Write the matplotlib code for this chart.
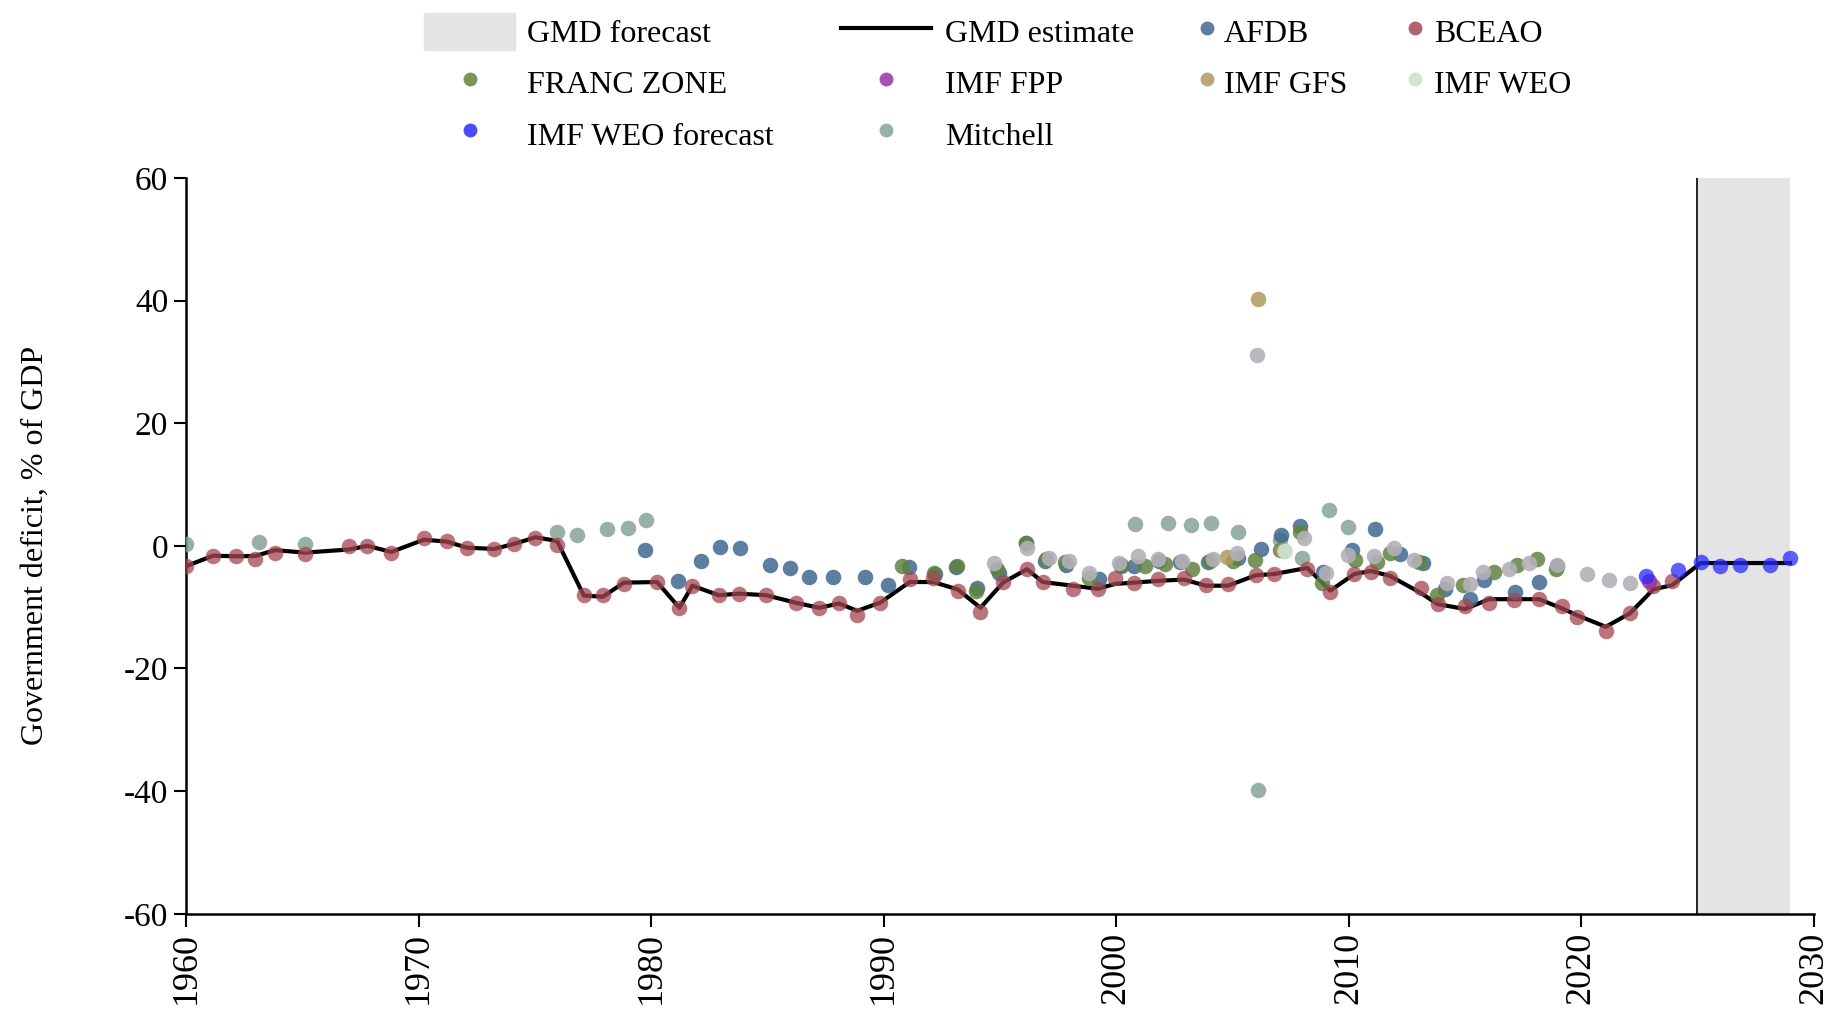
import matplotlib
matplotlib.use("Agg")
import matplotlib.pyplot as plt
from matplotlib.lines import Line2D
from matplotlib.patches import Patch

plt.rcParams["font.family"] = ["Liberation Serif", "DejaVu Serif"]
plt.rcParams["axes.unicode_minus"] = False

# GMD estimate line
gmd_years = [1960.0, 1961.16, 1962.14, 1962.97, 1963.82, 1965.1, 1966.99, 1967.79, 1968.82,
             1970.21, 1971.2, 1972.07, 1973.24, 1974.09, 1975.02, 1975.95, 1977.1, 1977.92,
             1978.82, 1980.25, 1981.21, 1981.77, 1982.9, 1983.77, 1984.94, 1986.24, 1987.22,
             1988.08, 1988.86, 1989.85, 1991.12, 1992.13, 1993.18, 1994.16, 1995.13, 1996.16,
             1996.84, 1998.13, 1999.2, 1999.96, 2000.77, 2001.81, 2002.92, 2003.85, 2004.81,
             2006.0, 2006.78, 2008.22, 2009.21, 2010.24, 2010.95, 2011.77, 2013.11, 2013.82,
             2015.0, 2016.04, 2017.09, 2018.19, 2019.18, 2019.81, 2021.06, 2022.1, 2023.1,
             2023.92, 2025.14, 2025.97, 2026.83, 2028.12, 2028.98]
gmd_vals = [-3.3, -1.6, -1.7, -1.65, -0.7, -1.1, -0.6, 0.0, -1.0,
            1.0, 0.7, -0.3, -0.5, 0.3, 1.4, 0.8, -8.1, -8.3,
            -6.0, -5.9, -10.1, -6.5, -8.05, -7.8, -8.05, -9.3, -10.1,
            -9.4, -10.6, -9.25, -5.9, -5.9, -7.1, -10.1, -6.0, -3.8,
            -5.9, -6.5, -7.0, -6.2, -6.0, -5.7, -5.5, -6.5, -6.5,
            -4.8, -4.6, -3.6, -7.3, -4.6, -4.1, -4.9, -7.7, -9.5,
            -10.3, -8.7, -8.7, -8.7, -10.2, -11.3, -13.2, -11.0, -7.1,
            -6.4, -2.8, -2.8, -2.8, -2.8, -2.8]

afdb_years = [1979.75, 1981.17, 1982.13, 1982.96, 1983.82, 1985.1, 1985.97, 1986.79, 1987.82,
              1989.21, 1990.19, 1991.07, 1992.22, 1993.11, 1994.03, 1994.96, 1996.12, 1996.94,
              1997.83, 1999.27, 2000.22, 2000.75, 2001.86, 2002.74, 2003.93, 2005.25, 2006.23,
              2007.09, 2007.9, 2008.88, 2010.13, 2011.15, 2012.21, 2013.19, 2014.15, 2015.22,
              2015.82, 2017.15, 2018.2, 2018.97]
afdb_vals = [-0.7, -5.7, -2.5, -0.15, -0.35, -3.2, -3.65, -5.15, -5.1,
             -5.1, -6.4, -3.4, -4.55, -3.5, -6.8, -4.5, 0.4, -2.45,
             -3.15, -5.4, -3.25, -3.3, -2.4, -2.7, -2.7, -2.0, -0.5,
             1.8, 3.3, -4.3, -0.6, 2.8, -1.4, -2.85, -7.1, -8.6,
             -5.5, -7.6, -5.9, -3.3]

bceao_years = [1960.0, 1961.16, 1962.14, 1962.97, 1963.82, 1965.1, 1966.99, 1967.79, 1968.82,
               1970.21, 1971.2, 1972.07, 1973.24, 1974.09, 1975.02, 1975.95, 1977.1, 1977.92,
               1978.82, 1980.25, 1981.21, 1981.77, 1982.9, 1983.77, 1984.94, 1986.24, 1987.22,
               1988.08, 1988.86, 1989.85, 1991.12, 1992.13, 1993.18, 1994.16, 1995.13, 1996.16,
               1996.84, 1998.13, 1999.2, 1999.96, 2000.77, 2001.81, 2002.92, 2003.85, 2004.81,
               2006.0, 2006.78, 2008.22, 2009.21, 2010.24, 2010.95, 2011.77, 2013.11, 2013.82,
               2015.0, 2016.04, 2017.09, 2018.19, 2019.18, 2019.81, 2021.06, 2022.1, 2023.1,
               2023.92]
bceao_vals = [-3.3, -1.7, -1.7, -2.2, -1.1, -1.4, 0.05, -0.05, -1.2,
              1.3, 0.8, -0.3, -0.55, 0.3, 1.3, 0.2, -7.95, -8.05,
              -6.2, -5.9, -10.1, -6.5, -8.05, -7.8, -8.05, -9.3, -10.1,
              -9.25, -11.2, -9.25, -5.35, -5.2, -7.3, -10.8, -5.9, -3.8,
              -5.9, -7.0, -7.0, -5.2, -6.0, -5.4, -5.3, -6.4, -6.2,
              -4.7, -4.6, -3.7, -7.5, -4.6, -4.2, -5.3, -6.9, -9.45,
              -9.8, -9.3, -8.8, -8.6, -9.8, -11.6, -13.9, -11.0, -6.6,
              -5.8]

franc_years = [1990.77, 1992.16, 1993.14, 1993.97, 1994.86, 1996.11, 1996.99, 1997.79, 1998.85,
               2000.2, 2001.22, 2002.1, 2003.25, 2004.04, 2005.04, 2005.96, 2007.05, 2007.9,
               2008.84, 2010.27, 2011.23, 2011.78, 2013.04, 2013.79, 2014.93, 2016.27, 2017.23,
               2018.09, 2018.91]
franc_vals = [-3.3, -4.45, -3.35, -7.3, -3.75, 0.4, -2.2, -2.7, -5.2,
              -3.15, -3.3, -3.0, -3.7, -2.4, -2.4, -2.3, -0.6, 2.3,
              -6.1, -2.3, -2.6, -1.1, -2.7, -7.95, -6.35, -4.3, -3.1,
              -2.2, -3.7]

fpp_years = [2022.92]
fpp_vals = [-5.8]

gfs_years = [2004.78, 2006.1, 2007.16]
gfs_vals = [-1.8, 40.3, -0.6]

weo_years = [2007.24]
weo_vals = [-0.85]

weo_fc_years = [2022.78, 2024.18, 2025.14, 2025.97, 2026.83, 2028.12, 2028.98]
weo_fc_vals = [-4.9, -3.9, -2.7, -3.3, -3.2, -3.1, -2.0]

mitchell_years = [1960.0, 1963.14, 1965.12, 1975.96, 1976.82, 1978.1, 1978.99, 1979.78,
                  2000.82, 2002.22, 2003.2, 2004.08, 2005.23, 2006.08, 2007.05, 2007.97,
                  2009.14, 2009.96]
mitchell_vals = [0.3, 0.7, 0.3, 2.2, 1.7, 2.7, 2.9, 4.2,
                 3.5, 3.7, 3.4, 3.8, 2.2, -39.8, 1.0, -1.9,
                 5.9, 3.0]

# grey dots without a legend entry
other_years = [1994.76, 1996.16, 1997.13, 1997.97, 1998.84, 2000.1, 2000.95, 2001.81, 2002.82,
               2004.18, 2005.21, 2006.07, 2007.22, 2008.08, 2009.03, 2009.96, 2011.1, 2011.95,
               2012.81, 2014.24, 2015.22, 2015.77, 2016.91, 2017.77, 2018.95, 2020.24, 2021.21,
               2022.1]
other_vals = [-2.85, -0.3, -2.0, -2.5, -4.4, -2.8, -1.6, -2.1, -2.4,
              -2.1, -1.1, 31.2, -0.8, 1.2, -4.35, -1.5, -1.7, -0.4,
              -2.3, -6.1, -6.2, -4.3, -3.7, -2.75, -3.1, -4.65, -5.5,
              -6.0]

forecast_start, forecast_end = 2025, 2029

c_afdb = "#3f6890"
c_bceao = "#a44650"
c_franc = "#5f8340"
c_fpp = "#9a2fa6"
c_gfs = "#b09a5c"
c_weo = "#cfe5cf"
c_weo_fc = "#2a2aff"
c_mitchell = "#86a296"
c_other = "#b4b0b8"
c_shade = "#e4e4e4"

fig = plt.figure(figsize=(18.37, 10.18), dpi=100)
ax = fig.add_axes([0.1014, 0.1024, 0.8859, 0.7228])

ax.axvspan(forecast_start, forecast_end, color=c_shade, lw=0, zorder=0)
ax.axvline(forecast_start, color="black", lw=1.2, zorder=1)
ax.plot(gmd_years, gmd_vals, color="black", lw=3, zorder=2)

ms = 125
a = 0.85
ax.scatter(mitchell_years, mitchell_vals, s=ms, color=c_mitchell, alpha=a, lw=0, zorder=3)
ax.scatter(afdb_years, afdb_vals, s=ms, color=c_afdb, alpha=a, lw=0, zorder=3)
ax.scatter(franc_years, franc_vals, s=ms, color=c_franc, alpha=a, lw=0, zorder=3)
ax.scatter(gfs_years, gfs_vals, s=ms, color=c_gfs, alpha=a, lw=0, zorder=3)
ax.scatter(other_years, other_vals, s=ms, color=c_other, alpha=0.9, lw=0, zorder=3)
ax.scatter(weo_years, weo_vals, s=ms, color=c_weo, alpha=a, lw=0, zorder=3)
ax.scatter(bceao_years, bceao_vals, s=ms, color=c_bceao, alpha=0.75, lw=0, zorder=4)
ax.scatter(fpp_years, fpp_vals, s=ms, color=c_fpp, alpha=a, lw=0, zorder=4)
ax.scatter(weo_fc_years, weo_fc_vals, s=ms, color=c_weo_fc, alpha=0.75, lw=0, zorder=5)

ax.set_xlim(1960, 2030)
ax.set_ylim(-60, 60)
ax.set_xticks(range(1960, 2031, 10))
ax.set_xticklabels([str(y) for y in range(1960, 2031, 10)], rotation=90)
ax.set_yticks(range(-60, 61, 20))
ax.tick_params(labelsize=24, length=9, width=1.5, direction="out", pad=4)
ax.tick_params(axis="x", labelsize=26)
for side in ["top", "right"]:
    ax.spines[side].set_visible(False)
for side in ["left", "bottom"]:
    ax.spines[side].set_linewidth(1.8)

ax.set_ylabel("Government deficit, % of GDP", fontsize=23)
ax.yaxis.set_label_coords(-0.084, 0.5)

# legend: four columns placed separately
def mk(c, alpha=0.85):
    return Line2D([], [], marker="o", ls="", color=c, markersize=10, alpha=alpha, mew=0)

h_fc = Patch(facecolor=c_shade, edgecolor=c_shade)
h_est = Line2D([], [], color="black", lw=3)
fs = 23
W, H = 1837.0, 1018.0
common = dict(frameon=False, fontsize=fs, borderpad=0, borderaxespad=0,
              labelspacing=0.45, handleheight=1.4, loc="upper left")
top = 1 - 13 / H

fig.legend([h_fc, mk(c_franc), mk(c_weo_fc)], ["GMD forecast", "FRANC ZONE", "IMF WEO forecast"],
           bbox_to_anchor=(424 / W, top), handlelength=2.85, handletextpad=0.38, **common)
fig.legend([h_est, mk(c_fpp), mk(c_mitchell)], ["GMD estimate", "IMF FPP", "Mitchell"],
           bbox_to_anchor=(841 / W, top), handlelength=2.82, handletextpad=0.45, **common)
fig.legend([mk(c_afdb), mk(c_gfs)], ["AFDB", "IMF GFS"],
           bbox_to_anchor=(1197 / W, top), handlelength=0.6, handletextpad=0.25, **common)
fig.legend([mk(c_bceao), mk(c_weo, 1)], ["BCEAO", "IMF WEO"],
           bbox_to_anchor=(1405 / W, top), handlelength=0.6, handletextpad=0.3, **common)

fig.savefig("out.png", dpi=100)
